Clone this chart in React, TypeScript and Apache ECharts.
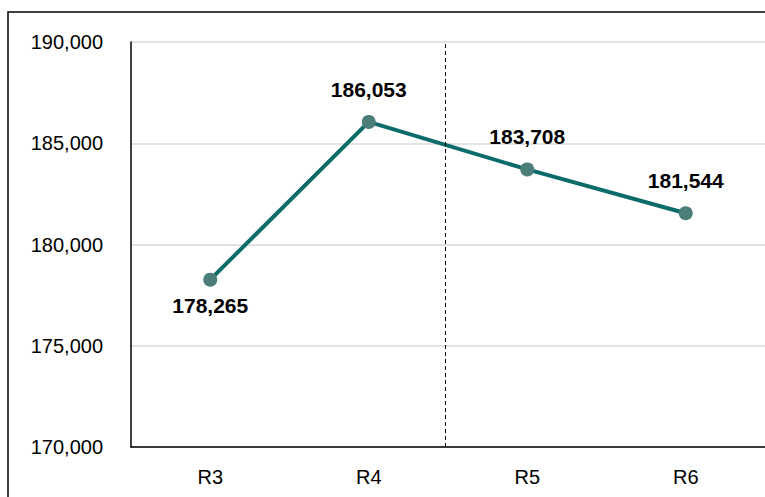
import React, { useEffect, useRef } from "react";
import * as echarts from "echarts";

const categories = ["R3", "R4", "R5", "R6"];
const values = [178265, 186053, 183708, 181544];
const yTicks = { min: 170000, max: 190000, interval: 5000 };
const labelPositions = ["bottom", "top", "top", "top"];
const dividerPosition = 1.48;

export default function App() {
  const ref = useRef<HTMLDivElement>(null);
  useEffect(() => {
    if (!ref.current) return;
    const chart = echarts.init(ref.current, null, { renderer: "svg" });
    const font = "'Liberation Sans', Arial, sans-serif";
    chart.setOption({
      animation: false,
      backgroundColor: "#ffffff",
      grid: { left: 131, top: 42, width: 636, height: 405 },
      xAxis: [
        {
          type: "category",
          data: categories,
          boundaryGap: true,
          axisLine: { onZero: false, lineStyle: { color: "#000", width: 1.5 } },
          axisTick: { show: false },
          axisLabel: { color: "#000", fontSize: 20, fontFamily: font, margin: 20 },
        },
        {
          type: "value",
          min: -0.5,
          max: 3.5,
          show: false,
        },
      ],
      yAxis: {
        type: "value",
        min: yTicks.min,
        max: yTicks.max,
        interval: yTicks.interval,
        axisLine: { show: true, onZero: false, lineStyle: { color: "#000", width: 1.5 } },
        axisTick: { show: false },
        splitLine: { lineStyle: { color: "#d9d9d9", width: 1.5 } },
        axisLabel: {
          color: "#000",
          fontSize: 20,
          fontFamily: font,
          margin: 28,
          formatter: (v: number) => v.toLocaleString("en-US"),
        },
      },
      series: [
        {
          type: "line",
          data: values.map((v, i) => ({
            value: v,
            label: {
              position: labelPositions[i],
              distance: labelPositions[i] === "bottom" ? 8 : 15,
            },
          })),
          symbol: "circle",
          symbolSize: 14,
          itemStyle: { color: "#4b7d79" },
          lineStyle: { color: "#0b6b68", width: 4 },
          label: {
            show: true,
            color: "#000",
            fontSize: 21,
            fontWeight: "bold",
            fontFamily: font,
            formatter: (p: any) => Number(p.value).toLocaleString("en-US"),
          },
          z: 3,
        },
        {
          type: "line",
          xAxisIndex: 1,
          data: [],
          markLine: {
            silent: true,
            symbol: "none",
            label: { show: false },
            lineStyle: { color: "#000", type: [4, 3], width: 1 },
            data: [{ xAxis: dividerPosition }],
          },
        },
      ],
      graphic: [
        {
          type: "rect",
          shape: { x: 8, y: 12, width: 900, height: 700 },
          style: { fill: "none", stroke: "#000", lineWidth: 1.5 },
          silent: true,
          z: 100,
        },
      ],
    });
    return () => chart.dispose();
  }, []);
  return <div ref={ref} style={{ width: 765, height: 497, position: "absolute", left: 0, top: 0 }} />;
}
